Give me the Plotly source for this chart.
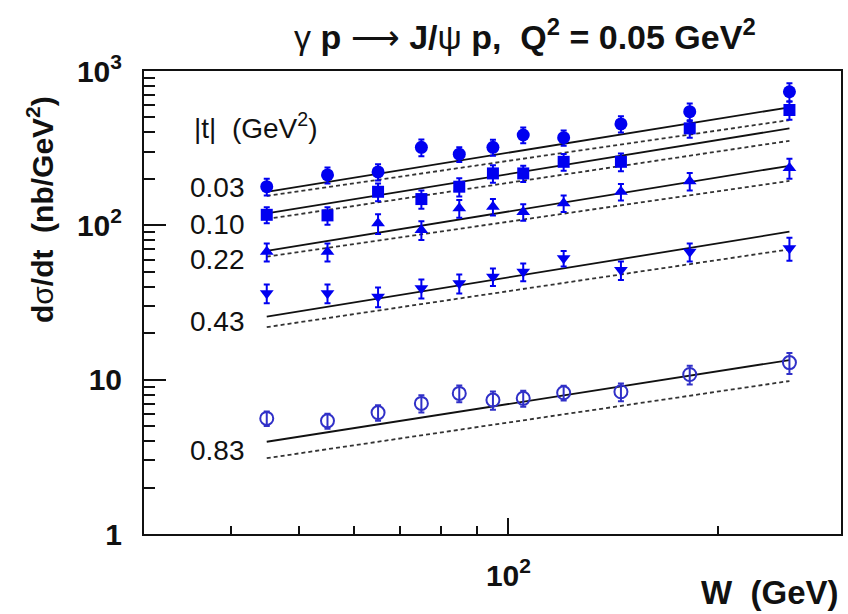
import plotly.graph_objects as go

# W bin centres (GeV)
W = [45, 55, 65, 75, 85, 95, 105, 120, 145, 182, 253]

# dsigma/dt (nb/GeV^2) for each |t| bin, with errors
t_labels = ["0.03", "0.10", "0.22", "0.43", "0.83"]
xs_003 = [178, 212, 222, 320, 289, 320, 385, 370, 454, 545, 734]
err_003 = [22, 25, 27, 40, 32, 38, 45, 42, 55, 70, 100]
xs_010 = [117, 116, 165, 148, 178, 217, 217, 258, 258, 425, 559]
err_010 = [14, 15, 22, 20, 24, 28, 26, 32, 34, 55, 75]
xs_022 = [67.4, 67.4, 103, 93.2, 129, 132, 122, 139, 165, 193, 235]
err_022 = [9, 9, 15, 13, 17, 16, 15, 17, 20, 25, 35]
xs_043 = [36.3, 36.3, 34.5, 39.1, 42.1, 46.5, 50.0, 61.1, 51.3, 67.4, 71.0]
err_043 = [5, 5, 5, 5.5, 6, 6, 6.5, 7, 7, 9, 12]
xs_083 = [5.61, 5.41, 6.12, 7.02, 8.15, 7.38, 7.57, 8.22, 8.35, 10.8, 12.9]
err_083 = [0.6, 0.6, 0.7, 0.9, 1.0, 1.0, 0.9, 0.9, 1.1, 1.5, 2.0]

# Model curves (power laws, straight in log-log): values at the W end points
W_model = [45, 253]
solid_003 = [165, 582]
solid_010 = [119.6, 425]
solid_022 = [68.4, 243]
solid_043 = [25.6, 90.9]
solid_083 = [3.96, 13.4]
dashed_003 = [155, 481]
dashed_010 = [109.9, 353]
dashed_022 = [62.6, 194]
dashed_043 = [21.9, 69.9]
dashed_083 = [3.10, 9.8]

FONT = "Liberation Sans, Arial, Helvetica, sans-serif"
BLUE = "#0000f0"
OPEN_BLUE = "#3030c8"

fig = go.Figure()

for sv, dv in [(solid_003, dashed_003), (solid_010, dashed_010), (solid_022, dashed_022),
               (solid_043, dashed_043), (solid_083, dashed_083)]:
    fig.add_trace(go.Scatter(x=W_model, y=sv, mode="lines",
                             line=dict(color="#111111", width=1.8), showlegend=False))
    fig.add_trace(go.Scatter(x=W_model, y=dv, mode="lines",
                             line=dict(color="#333333", width=1.8, dash="4px,3px"), showlegend=False))

series = [
    (xs_003, err_003, "circle", BLUE, 13),
    (xs_010, err_010, "square", BLUE, 12),
    (xs_022, err_022, "triangle-up", BLUE, 12),
    (xs_043, err_043, "triangle-down", BLUE, 12),
    (xs_083, err_083, "circle-open", OPEN_BLUE, 13),
]
for ys, es, sym, col, sz in series:
    fig.add_trace(go.Scatter(
        x=W, y=ys, mode="markers",
        marker=dict(symbol=sym, color=col, size=sz, line=dict(color=col, width=2 if "open" in sym else 0)),
        error_y=dict(type="data", array=es, color=col, thickness=2, width=3),
        showlegend=False))

fig.update_layout(
    width=848, height=614,
    margin=dict(l=144, r=5, t=71, b=80),
    paper_bgcolor="white", plot_bgcolor="white",
    font=dict(family=FONT, color="#111111"),
    xaxis=dict(type="log", range=[1.4771, 2.4771], showgrid=False, zeroline=False,
               showline=True, linecolor="#111111", linewidth=2, mirror=True,
               ticks="inside", ticklen=16, tickwidth=1.5, tickcolor="#111111",
               tickmode="array", tickvals=[100], ticktext=["<b>10</b><sup><b>2</b></sup>"],
               tickfont=dict(size=30, family=FONT), ticklabelstandoff=14,
               minor=dict(ticks="inside", ticklen=8, tickwidth=1.5, tickcolor="#111111",
                          tickmode="array", tickvals=[40, 50, 60, 70, 80, 90, 200])),
    yaxis=dict(type="log", range=[0, 3], showgrid=False, zeroline=False,
               showline=True, linecolor="#111111", linewidth=2, mirror=True,
               ticks="inside", ticklen=22, tickwidth=1.5, tickcolor="#111111",
               tickmode="array", tickvals=[1, 10, 100, 1000],
               ticktext=["<b>1</b>", "<b>10</b>", "<b>10</b><sup><b>2</b></sup>", "<b>10</b><sup><b>3</b></sup>"],
               tickfont=dict(size=30, family=FONT), ticklabelstandoff=14,
               minor=dict(ticks="inside", ticklen=11, tickwidth=1.5, tickcolor="#111111",
                          tickmode="array",
                          tickvals=[m * 10 ** k for k in range(3) for m in range(2, 10)])),
)

ann = []
ann.append(dict(text="γ <b>p</b> ⟶ <b>J/</b>ψ <b>p,  Q</b><sup><b>2</b></sup><b> = 0.05 GeV</b><sup><b>2</b></sup>",
                xref="paper", yref="paper", x=0.546, y=1.078, xanchor="center", yanchor="middle",
                showarrow=False, font=dict(size=34, family=FONT)))
ann.append(dict(text="<b>W  (GeV)</b>", xref="paper", yref="paper", x=1.0, y=-0.126,
                xanchor="right", yanchor="middle", showarrow=False, font=dict(size=33, family=FONT)))
ann.append(dict(text="<b>d</b>σ<b>/dt  (nb/GeV</b><sup><b>2</b></sup><b>)</b>", xref="paper", yref="paper",
                x=-0.149, y=0.70, xanchor="center", yanchor="middle", textangle=-90,
                showarrow=False, font=dict(size=30, family=FONT)))
ann.append(dict(text="|t|  (GeV<sup>2</sup>)", xref="paper", yref="paper", x=0.0687, y=0.881,
                xanchor="left", yanchor="middle", showarrow=False, font=dict(size=28, family=FONT)))
label_y = [0.7484, 0.6695, 0.5918, 0.4579, 0.1814]
for lab, yy in zip(t_labels, label_y):
    ann.append(dict(text=lab, xref="paper", yref="paper", x=0.1474, y=yy, xanchor="right",
                    yanchor="middle", showarrow=False, font=dict(size=28, family=FONT)))
fig.update_layout(annotations=ann)

fig.write_html("out.html")
